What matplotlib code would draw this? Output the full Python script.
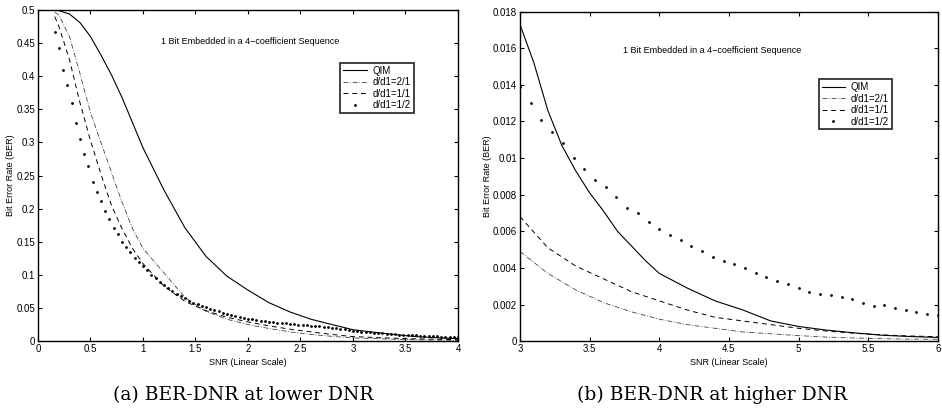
import matplotlib.pyplot as plt

plt.rcParams['font.family'] = ['Liberation Sans', 'DejaVu Sans']

# ---- (a) lower DNR ----
snr_lo = [0.16, 0.2, 0.3, 0.4, 0.5, 0.6, 0.7, 0.8, 0.9, 1.0, 1.2, 1.4, 1.6,
          1.8, 2.0, 2.2, 2.4, 2.6, 2.8, 3.0, 3.2, 3.4, 3.6, 3.8, 4.0]
qim_lo = [0.500, 0.499, 0.494, 0.481, 0.460, 0.432, 0.402, 0.368, 0.330, 0.292,
          0.228, 0.171, 0.128, 0.098, 0.077, 0.058, 0.044, 0.033, 0.025, 0.0172,
          0.0134, 0.0098, 0.0068, 0.0050, 0.0037]
r21_lo = [0.497, 0.492, 0.460, 0.404, 0.345, 0.300, 0.255, 0.210, 0.170, 0.140,
          0.103, 0.066, 0.045, 0.033, 0.025, 0.019, 0.014, 0.010, 0.0072, 0.0048,
          0.0038, 0.0029, 0.0022, 0.0016, 0.0012]
r11_lo = [0.490, 0.475, 0.425, 0.360, 0.303, 0.252, 0.205, 0.170, 0.140, 0.117,
          0.083, 0.060, 0.046, 0.036, 0.029, 0.023, 0.018, 0.014, 0.0100, 0.0068,
          0.0055, 0.0043, 0.0034, 0.0028, 0.0022]

snr_dots_lo = [0.16, 0.20, 0.24, 0.28, 0.32, 0.36, 0.40, 0.44, 0.48, 0.52,
               0.56, 0.60, 0.64, 0.68, 0.72, 0.76, 0.80, 0.84, 0.88, 0.92,
               0.96, 1.00, 1.04, 1.08, 1.12, 1.16, 1.20, 1.24, 1.28, 1.32,
               1.36, 1.40, 1.44, 1.48, 1.52, 1.56, 1.60, 1.64, 1.68, 1.72,
               1.76, 1.80, 1.84, 1.88, 1.92, 1.96, 2.00, 2.04, 2.08, 2.12,
               2.16, 2.20, 2.24, 2.28, 2.32, 2.36, 2.40, 2.44, 2.48, 2.52,
               2.56, 2.60, 2.64, 2.68, 2.72, 2.76, 2.80, 2.84, 2.88, 2.92,
               2.96, 3.00, 3.04, 3.08, 3.12, 3.16, 3.20, 3.24, 3.28, 3.32,
               3.36, 3.40, 3.44, 3.48, 3.52, 3.56, 3.60, 3.64, 3.68, 3.72,
               3.76, 3.80, 3.84, 3.88, 3.92, 3.96, 4.00]
r12_lo = [0.467, 0.443, 0.409, 0.387, 0.359, 0.330, 0.305, 0.283, 0.264, 0.240,
          0.225, 0.211, 0.197, 0.185, 0.171, 0.161, 0.150, 0.142, 0.134, 0.126,
          0.119, 0.113, 0.107, 0.100, 0.095, 0.090, 0.085, 0.080, 0.075, 0.071,
          0.068, 0.065, 0.061, 0.058, 0.056, 0.053, 0.051, 0.049, 0.047, 0.045,
          0.043, 0.041, 0.039, 0.038, 0.037, 0.035, 0.034, 0.033, 0.032, 0.031,
          0.030, 0.029, 0.0285, 0.028, 0.0275, 0.027, 0.026, 0.0255, 0.025, 0.0245,
          0.024, 0.0235, 0.023, 0.0225, 0.022, 0.021, 0.0205, 0.020, 0.019, 0.018,
          0.017, 0.016, 0.015, 0.014, 0.0135, 0.013, 0.0125, 0.012, 0.0115, 0.011,
          0.0105, 0.010, 0.0097, 0.0094, 0.0091, 0.0088, 0.0085, 0.0082, 0.0079, 0.0076,
          0.0073, 0.0071, 0.0069, 0.0067, 0.0065, 0.0063, 0.0061]

# ---- (b) higher DNR ----
snr_qim_hi = [3.0, 3.1, 3.2, 3.3, 3.4, 3.5, 3.6, 3.7, 3.8, 3.9, 4.0, 4.2, 4.4,
              4.6, 4.7, 4.8, 5.0, 5.2, 5.4, 5.6, 5.8, 6.0]
qim_hi = [0.0173, 0.0152, 0.0126, 0.0107, 0.0093, 0.0081, 0.0071, 0.0060, 0.0052,
          0.0044, 0.0037, 0.0029, 0.0022, 0.0017, 0.0014, 0.0011, 0.0008, 0.0006,
          0.00045, 0.00032, 0.00025, 0.0002]
snr_hi = [3.0, 3.2, 3.4, 3.6, 3.8, 4.0, 4.2, 4.4, 4.6, 4.8, 5.0, 5.2, 5.4, 5.6, 5.8, 6.0]
r21_hi = [0.0049, 0.0037, 0.0028, 0.0021, 0.0016, 0.0012, 0.0009, 0.0007, 0.0005,
          0.0004, 0.0003, 0.00022, 0.00017, 0.00013, 0.00011, 0.0001]
r11_hi = [0.0068, 0.0051, 0.0041, 0.0034, 0.0027, 0.0022, 0.0017, 0.0013, 0.0011,
          0.0009, 0.0007, 0.00055, 0.00043, 0.00034, 0.00028, 0.00024]
snr_dots_hi = [3.000, 3.077, 3.154, 3.231, 3.308, 3.385, 3.462, 3.538, 3.615, 3.692,
               3.769, 3.846, 3.923, 4.000, 4.077, 4.154, 4.231, 4.308, 4.385, 4.462,
               4.538, 4.615, 4.692, 4.769, 4.846, 4.923, 5.000, 5.077, 5.154, 5.231,
               5.308, 5.385, 5.462, 5.538, 5.615, 5.692, 5.769, 5.846, 5.923, 6.000]
r12_hi = [0.0139, 0.0130, 0.0121, 0.0114, 0.0108, 0.0100, 0.0094, 0.0088, 0.0084, 0.0079,
          0.0073, 0.0070, 0.0065, 0.0061, 0.0058, 0.0055, 0.0052, 0.0049, 0.0046, 0.0044,
          0.0042, 0.0040, 0.0037, 0.0035, 0.0033, 0.0031, 0.0029, 0.0027, 0.0026, 0.0025,
          0.0024, 0.0023, 0.0021, 0.0019, 0.0020, 0.0018, 0.0017, 0.0016, 0.0015, 0.0014]

labels = ['QIM', 'd/d1=2/1', 'd/d1=1/1', 'd/d1=1/2']
note = '1 Bit Embedded in a 4\u2212coefficient Sequence'

fig = plt.figure(figsize=(9.42, 4.17), dpi=100)
ax1 = fig.add_axes([0.0403, 0.182, 0.4459, 0.794])
ax2 = fig.add_axes([0.552, 0.182, 0.4437, 0.790])


def draw(ax, xq, q, x21, a, x11, b, xd, d):
    ax.plot(xq, q, color='black', lw=0.8, label=labels[0])
    ax.plot(x21, a, color='#444444', lw=0.6, dashes=(6, 2, 1, 2), label=labels[1])
    ax.plot(x11, b, color='black', lw=0.7, dashes=(5, 4), label=labels[2])
    ax.plot(xd, d, ls='none', marker='.', ms=2.0, color='black', label=labels[3])


draw(ax1, snr_lo, qim_lo, snr_lo, r21_lo, snr_lo, r11_lo, snr_dots_lo, r12_lo)
draw(ax2, snr_qim_hi, qim_hi, snr_hi, r21_hi, snr_hi, r11_hi, snr_dots_hi, r12_hi)

ax1.set_xlim(0, 4)
ax1.set_ylim(0, 0.5)
ax1.set_xticks([0, 0.5, 1, 1.5, 2, 2.5, 3, 3.5, 4])
ax1.set_xticklabels(['0', '0.5', '1', '1.5', '2', '2.5', '3', '3.5', '4'])
ax1.set_yticks([0, 0.05, 0.1, 0.15, 0.2, 0.25, 0.3, 0.35, 0.4, 0.45, 0.5])
ax1.set_yticklabels(['0', '0.05', '0.1', '0.15', '0.2', '0.25', '0.3', '0.35',
                     '0.4', '0.45', '0.5'])
ax1.text(1.17, 0.453, note, fontsize=6.5, va='center')

ax2.set_xlim(3, 6)
ax2.set_ylim(0, 0.018)
ax2.set_xticks([3, 3.5, 4, 4.5, 5, 5.5, 6])
ax2.set_xticklabels(['3', '3.5', '4', '4.5', '5', '5.5', '6'])
ax2.set_yticks([0, 0.002, 0.004, 0.006, 0.008, 0.01, 0.012, 0.014, 0.016, 0.018])
ax2.set_yticklabels(['0', '0.002', '0.004', '0.006', '0.008', '0.01', '0.012',
                     '0.014', '0.016', '0.018'])
ax2.text(3.74, 0.0159, note, fontsize=6.5, va='center')

for ax, bbox in [(ax1, (0.72, 0.69, 0.18, 0.15)), (ax2, (0.715, 0.645, 0.175, 0.15))]:
    ax.tick_params(direction='in', top=True, right=True, labelsize=7, length=3,
                   width=0.8, pad=2)
    for s in ax.spines.values():
        s.set_linewidth(1.0)
    ax.set_xlabel('SNR (Linear Scale)', fontsize=6.5, labelpad=3)
    ax.set_ylabel('Bit Error Rate (BER)', fontsize=6.5, labelpad=1)
    leg = ax.legend(loc='upper left', bbox_to_anchor=(bbox[0], bbox[1] + bbox[3]),
                    fontsize=7, frameon=True, fancybox=False, handlelength=2.4,
                    handletextpad=0.6, borderpad=0.3, labelspacing=0.15,
                    borderaxespad=0)
    leg.get_frame().set_edgecolor('black')
    leg.get_frame().set_linewidth(1.3)

fig.text(0.258, 0.052, '(a) BER-DNR at lower DNR', family='DejaVu Serif',
         fontsize=13.5, ha='center', va='center')
fig.text(0.756, 0.052, '(b) BER-DNR at higher DNR', family='DejaVu Serif',
         fontsize=13.5, ha='center', va='center')

fig.savefig('out.png', dpi=100)
